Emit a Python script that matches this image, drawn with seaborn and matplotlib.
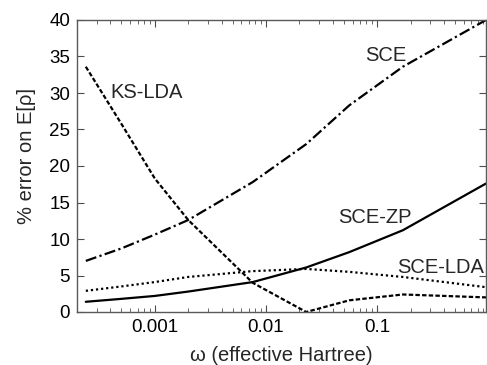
import numpy as np
import pandas as pd
import matplotlib
matplotlib.use("Agg")
import matplotlib.pyplot as plt
from matplotlib.ticker import FixedLocator, FixedFormatter, LogLocator, NullFormatter
import seaborn as sns

# --- data ---
omega = [0.00024, 0.0005, 0.001, 0.002, 0.0076, 0.023, 0.056, 0.17, 0.95]
sce = [7.0, 8.7, 10.6, 12.6, 17.8, 23.0, 28.3, 33.6, 40.0]
ks_lda = [33.6, 25.8, 18.3, 12.6, 4.0, 0.0, 1.6, 2.4, 2.0]
sce_lda = [2.9, 3.5, 4.1, 4.8, 5.6, 5.9, 5.5, 4.8, 3.4]
sce_zp = [1.4, 1.8, 2.2, 2.8, 4.1, 6.1, 8.2, 11.2, 17.6]

x_ticks = [0.001, 0.01, 0.1]
x_labels = ["0.001", "0.01", "0.1"]
y_ticks = [0, 5, 10, 15, 20, 25, 30, 35, 40]

sns.set_style("ticks")
plt.rcParams['font.family'] = ['Liberation Sans', 'DejaVu Sans']
plt.rcParams['font.size'] = 14

fig = plt.figure(figsize=(4.87, 3.65), dpi=100)
ax = fig.add_axes([77 / 487, 1 - 312 / 365, 409.5 / 487, 292 / 365])

df = pd.DataFrame({"omega": omega, "SCE": sce, "KS-LDA": ks_lda,
                   "SCE-LDA": sce_lda, "SCE-ZP": sce_zp})

styles = {
    "SCE": (0, (5, 1.5, 1, 1.5)),
    "KS-LDA": (0, (2, 1)),
    "SCE-LDA": (0, (1, 1.3)),
    "SCE-ZP": "-",
}
for name, ls in styles.items():
    sns.lineplot(data=df, x="omega", y=name, ax=ax, color="black",
                 linewidth=1.6, linestyle=ls)

ax.set_xscale("log")
ax.set_xlim(0.0002, 0.96)
ax.set_ylim(0, 40)

ax.xaxis.set_major_locator(FixedLocator(x_ticks))
ax.xaxis.set_major_formatter(FixedFormatter(x_labels))
ax.xaxis.set_minor_locator(LogLocator(base=10, subs=np.arange(2, 10)))
ax.xaxis.set_minor_formatter(NullFormatter())
ax.set_yticks(y_ticks)

ax.tick_params(which="both", direction="in", top=True, right=True,
               colors="0.3", labelcolor="black", labelsize=13.5)
ax.tick_params(which="major", length=5, pad=5)
ax.tick_params(which="minor", length=3)
for s in ax.spines.values():
    s.set_visible(True)
    s.set_color("0.35")
    s.set_linewidth(1.0)

ax.set_xlabel("ω (effective Hartree)", fontsize=14.5, labelpad=7)
ax.set_ylabel("% error on E[ρ]", fontsize=14.5)
ax.yaxis.set_label_coords(-0.1, 0.535)

ax.text(0.12, 35.1, "SCE", ha="center", va="center", fontsize=14.5)
ax.text(0.00085, 30.0, "KS-LDA", ha="center", va="center", fontsize=14.5)
ax.text(0.096, 13.0, "SCE-ZP", ha="center", va="center", fontsize=14.5)
ax.text(0.37, 6.1, "SCE-LDA", ha="center", va="center", fontsize=14.5)

fig.savefig("out.png", dpi=100)
